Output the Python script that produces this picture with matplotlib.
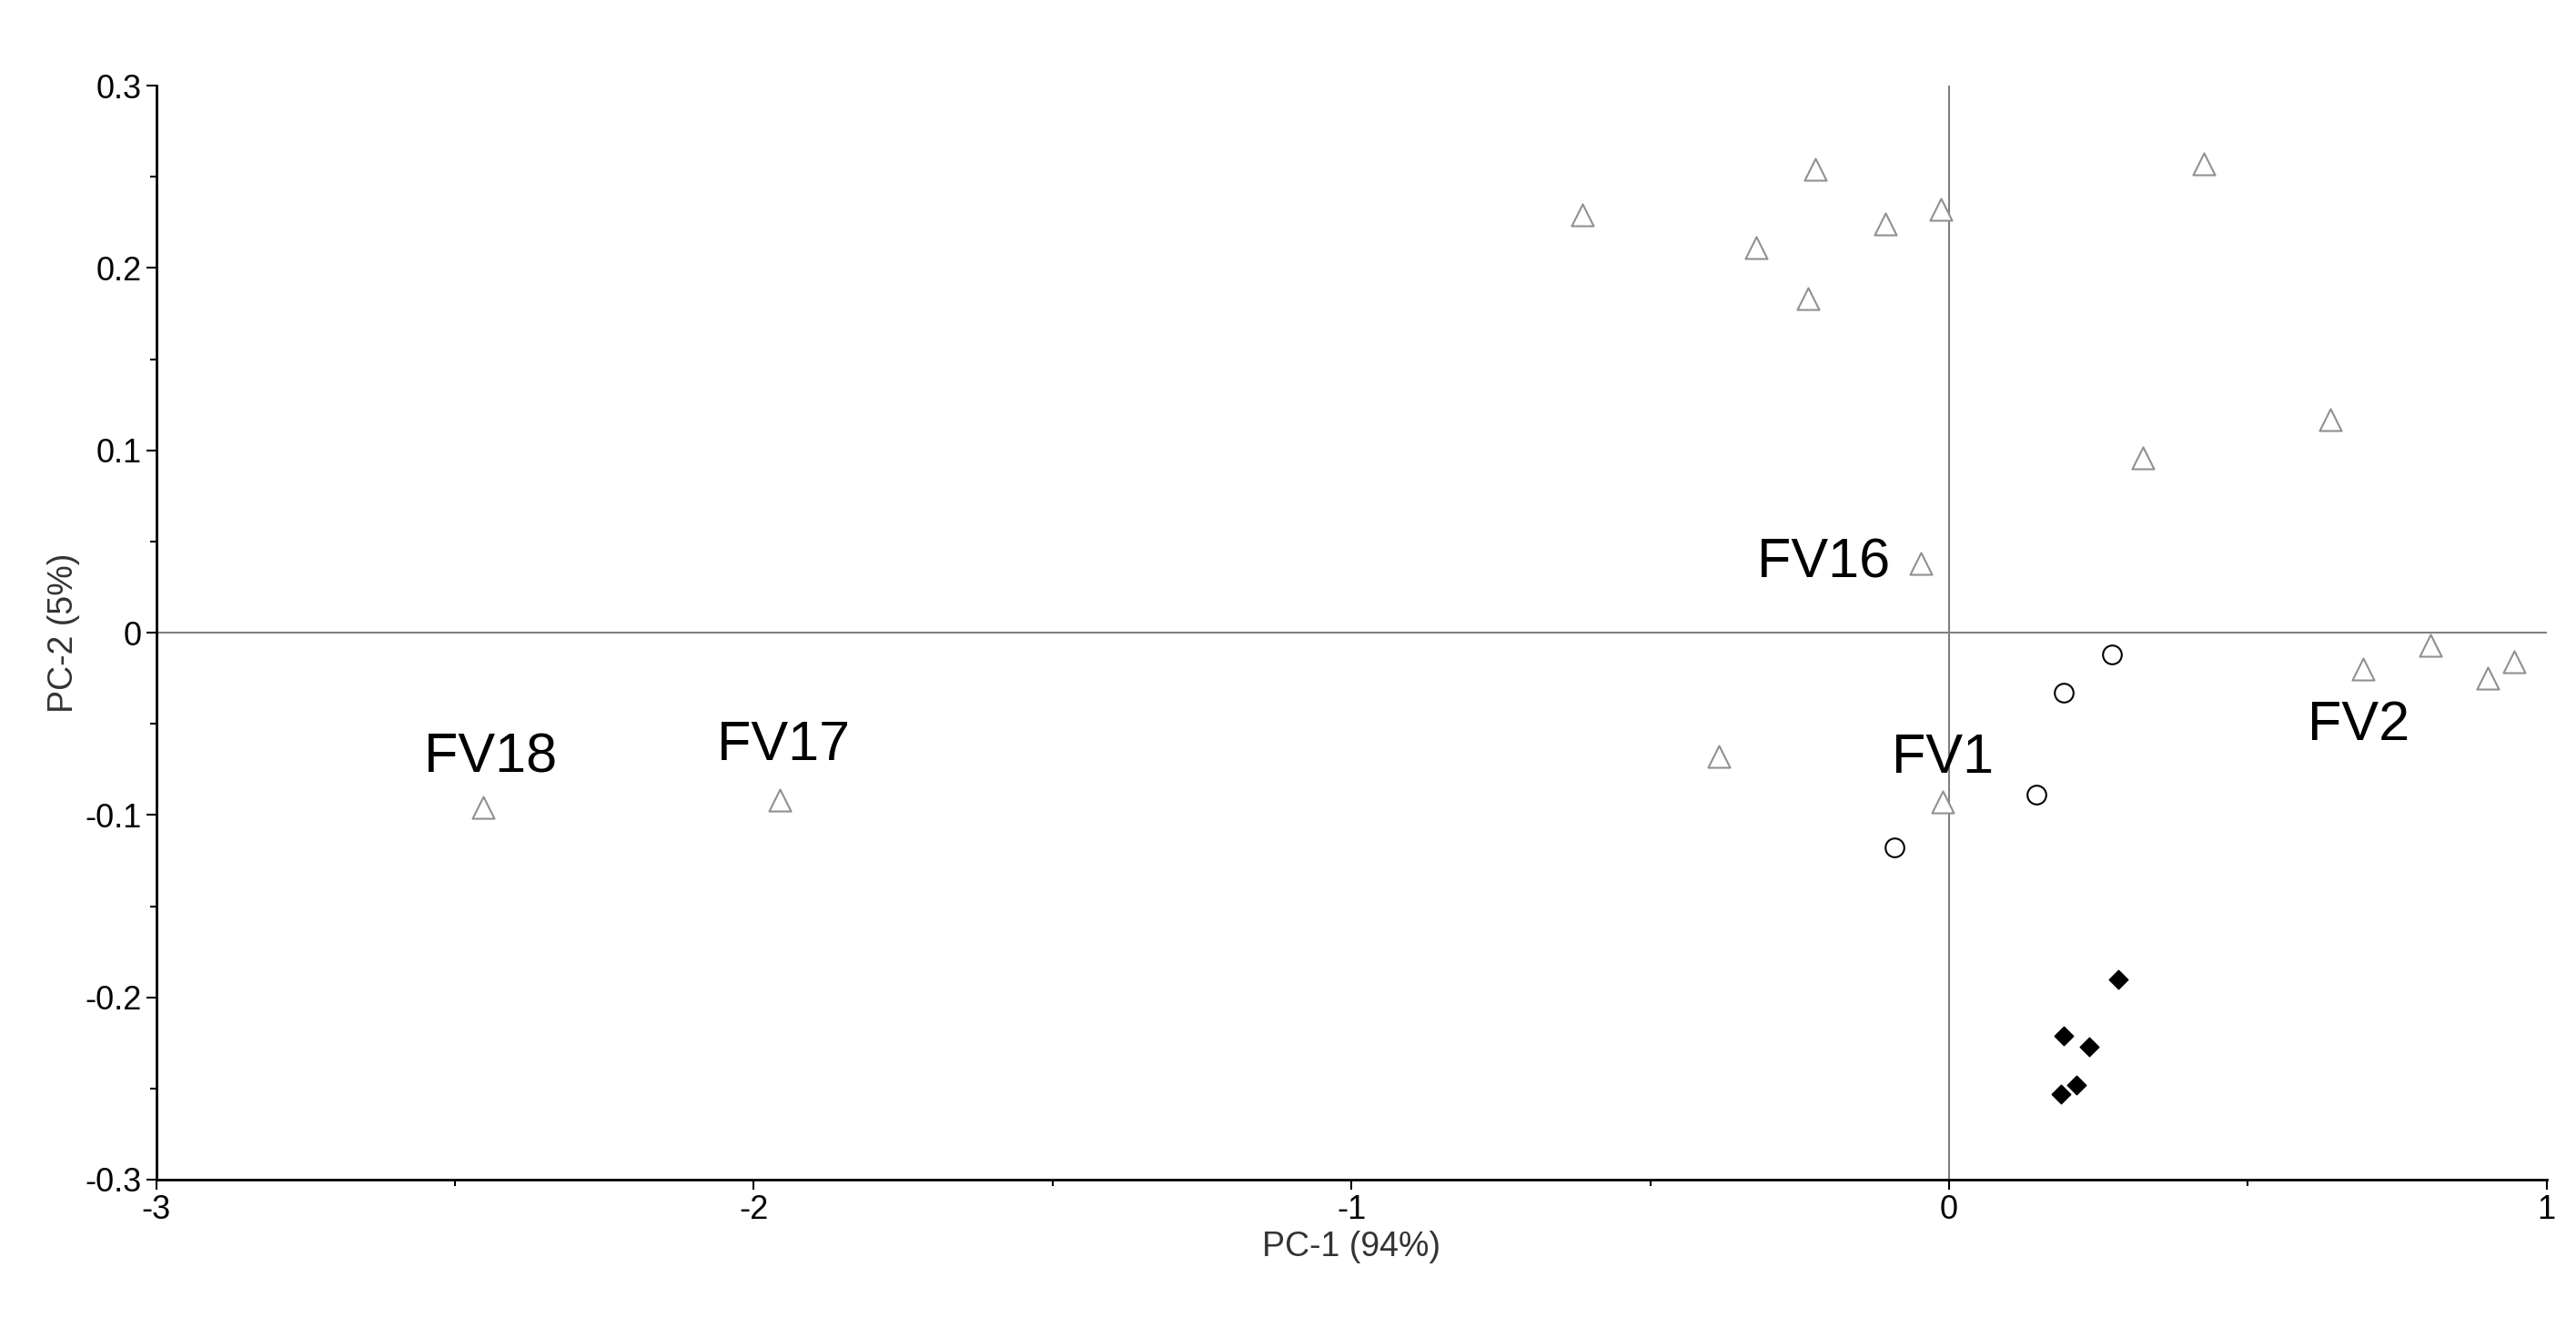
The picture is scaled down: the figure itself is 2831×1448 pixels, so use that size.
import matplotlib
matplotlib.use("Agg")
import matplotlib.pyplot as plt
from matplotlib.ticker import MultipleLocator, FuncFormatter

plt.rcParams['font.family'] = ['Liberation Sans', 'DejaVu Sans']
plt.rcParams['axes.unicode_minus'] = False

tri_x = [-0.613, -0.322, -0.223, -0.236, -0.107, -0.014, 0.426, 0.638, 0.324, -0.047,
         0.806, 0.693, 0.902, 0.946, -0.385, -0.011, -1.957, -2.452]
tri_y = [0.229, 0.211, 0.254, 0.183, 0.224, 0.232, 0.257, 0.117, 0.096, 0.038,
         -0.007, -0.020, -0.025, -0.016, -0.068, -0.093, -0.092, -0.096]
circ_x = [0.272, 0.192, 0.146, -0.091]
circ_y = [-0.012, -0.033, -0.089, -0.118]
dia_x = [0.283, 0.192, 0.234, 0.214, 0.187]
dia_y = [-0.190, -0.221, -0.227, -0.248, -0.253]
labels = ["FV18", "FV17", "FV16", "FV1", "FV2"]
label_x = [-2.44, -1.95, -0.21, -0.01, 0.685]
label_y = [-0.069, -0.062, 0.038, -0.069, -0.051]

fig = plt.figure(figsize=(28.31, 14.48), dpi=100)
ax = fig.add_axes([0.0606, 0.105, 0.928, 0.83])
ax.axhline(0, color='#808080', lw=1.5, zorder=1)
ax.axvline(0, color='#808080', lw=1.5, zorder=1)
ax.scatter(tri_x, tri_y, marker='^', s=300, facecolors='white', edgecolors='#909090', linewidths=1.5, zorder=3)
ax.scatter(circ_x, circ_y, marker='o', s=220, facecolors='white', edgecolors='black', linewidths=1.5, zorder=3)
ax.scatter(dia_x, dia_y, marker='D', s=110, color='black', zorder=3)
for t, x, y in zip(labels, label_x, label_y):
    ax.text(x, y, t, fontsize=44, ha='center', va='center')
ax.set_xlim(-3, 1)
ax.set_ylim(-0.3, 0.3)
ax.xaxis.set_major_locator(MultipleLocator(1))
ax.xaxis.set_minor_locator(MultipleLocator(0.5))
ax.yaxis.set_major_locator(MultipleLocator(0.1))
ax.yaxis.set_minor_locator(MultipleLocator(0.05))
ax.xaxis.set_major_formatter(FuncFormatter(lambda v, p: f"{v:g}".replace("-0", "-0") if abs(v) > 1e-9 else "0"))
ax.yaxis.set_major_formatter(FuncFormatter(lambda v, p: "0" if abs(v) < 1e-9 else f"{v:.1f}"))
ax.spines['top'].set_visible(False)
ax.spines['right'].set_visible(False)
for s in ['left', 'bottom']:
    ax.spines[s].set_linewidth(2)
ax.tick_params(which='major', length=8, width=1.5, labelsize=26)
ax.tick_params(which='minor', length=5, width=1.5)
ax.set_xlabel("PC-1 (94%)", fontsize=27, color='#333333')
ax.set_ylabel("PC-2 (5%)", fontsize=27, color='#333333')
fig.savefig("out.png", dpi=100)
